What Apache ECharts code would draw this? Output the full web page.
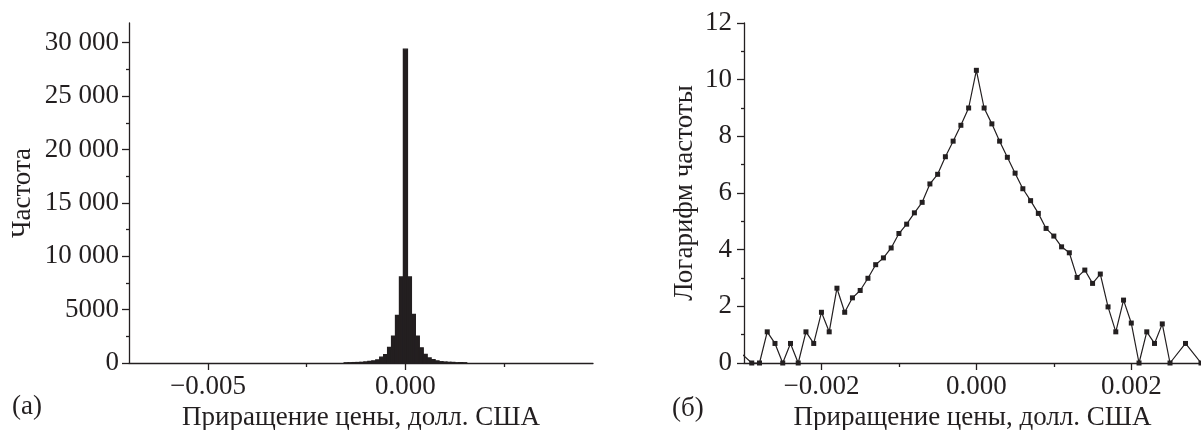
<!DOCTYPE html>
<html><head><meta charset="utf-8">
<script src="https://cdn.jsdelivr.net/npm/echarts@6/dist/echarts.min.js"></script>
<style>html,body{margin:0;padding:0;background:#fff}#c{width:1201px;height:430px}</style>
</head><body><div id="c"></div>
<script>
// ---- Panel (а): histogram of price increments ----
const HIST_X = [-0.0015,-0.0014,-0.0013,-0.0012,-0.0011,-0.0010,-0.0009,-0.0008,-0.0007,-0.0006,-0.0005,-0.0004,-0.0003,-0.0002,-0.0001,0,
  0.0001,0.0002,0.0003,0.0004,0.0005,0.0006,0.0007,0.0008,0.0009,0.0010,0.0011,0.0012,0.0013,0.0014,0.0015];
const HIST_COUNT = [13,20,32,41,58,97,134,200,290,555,780,1450,2500,4450,8050,29400,
  8050,4550,2500,1420,810,470,310,196,116,88,60,49,20,26,17];
const BIN_WIDTH = 0.0001;
const LEFT_Y_TICKS = [0,5000,10000,15000,20000,25000,30000];
const LEFT_Y_LABELS = ['0','5000','10 000','15 000','20 000','25 000','30 000'];
const LEFT_Y_MINOR = [2500,7500,12500,17500,22500,27500];
const LEFT_X_TICKS = [-0.005,0];
const LEFT_X_LABELS = ['\u22120.005','0.000'];
const LEFT_X_MINOR = [-0.0025,0.0025];

// ---- Panel (б): log of frequency ----
const LOG_X = [-0.0031,-0.0029,-0.0028,-0.0027,-0.0026,-0.0025,-0.0024,-0.0023,-0.0022,-0.0021,-0.0020,-0.0019,-0.0018,-0.0017,-0.0016,
  -0.0015,-0.0014,-0.0013,-0.0012,-0.0011,-0.0010,-0.0009,-0.0008,-0.0007,-0.0006,-0.0005,-0.0004,-0.0003,-0.0002,-0.0001,0,
  0.0001,0.0002,0.0003,0.0004,0.0005,0.0006,0.0007,0.0008,0.0009,0.0010,0.0011,0.0012,0.0013,0.0014,0.0015,
  0.0016,0.0017,0.0018,0.0019,0.0020,0.0021,0.0022,0.0023,0.0024,0.0025,0.0027,0.0029];
const LOG_Y = [0.5,0,0,1.1,0.69,0,0.69,0,1.1,0.69,1.79,1.1,2.64,1.79,2.30,
  2.56,2.99,3.47,3.71,4.06,4.57,4.90,5.30,5.67,6.32,6.66,7.28,7.83,8.39,9.0,10.33,
  9.0,8.44,7.83,7.26,6.70,6.15,5.73,5.28,4.75,4.48,4.10,3.89,3.02,3.28,2.81,
  3.14,1.98,1.10,2.22,1.41,0,1.10,0.69,1.38,0,0.69,0];
const RIGHT_Y_LABELS = ['0','2','4','6','8','10','12'];
const RIGHT_X_TICKS = [-0.002,0,0.002];
const RIGHT_X_LABELS = ['\u22120.002','0.000','0.002'];
const RIGHT_X_MINOR = [-0.001,0.001];

const INK = '#231f20';
const FONT = 'Liberation Serif';
const FS = 27;
const lineStyle = {color: INK, width: 1.3};
const labelStyle = {color: INK, fontFamily: FONT, fontSize: FS};

function mapLabel(ticks, labels) {
  return v => { for (let i = 0; i < ticks.length; i++) if (Math.abs(ticks[i] - v) < 1e-9) return labels[i]; return ''; };
}

const LEFT_X_MIN = -0.007, LEFT_X_MAX = 0.00475, LEFT_Y_MAX = 31850;
const RIGHT_X_MIN = -0.003, RIGHT_X_MAX = 0.0029;

const gridL = {left: 129, right: 608, top: 23, bottom: 67, containLabel: false, outerBoundsMode: 'none'};
const gridR = {left: 744, right: 0, top: 23, bottom: 67, containLabel: false, outerBoundsMode: 'none'};

const chart = echarts.init(document.getElementById('c'), null, {renderer: 'canvas'});
chart.setOption({
  animation: false,
  backgroundColor: '#fff',
  textStyle: {fontFamily: FONT, color: INK},
  grid: [Object.assign({}, gridL), Object.assign({}, gridL), Object.assign({}, gridR), Object.assign({}, gridR)],
  xAxis: [
    {type: 'value', gridIndex: 0, min: LEFT_X_MIN, max: LEFT_X_MAX,
      axisLine: {show: true, onZero: false, lineStyle}, splitLine: {show: false},
      axisTick: {show: true, inside: false, length: 7, customValues: LEFT_X_TICKS, lineStyle},
      axisLabel: Object.assign({margin: 10, customValues: LEFT_X_TICKS, formatter: mapLabel(LEFT_X_TICKS, LEFT_X_LABELS)}, labelStyle),
      name: 'Приращение цены, долл. США', nameLocation: 'middle', nameGap: 28, nameTextStyle: labelStyle},
    {type: 'value', gridIndex: 1, min: LEFT_X_MIN, max: LEFT_X_MAX,
      axisLine: {show: false, onZero: false}, splitLine: {show: false},
      axisTick: {show: true, length: 4, customValues: LEFT_X_MINOR, lineStyle},
      axisLabel: {show: false}},
    {type: 'value', gridIndex: 2, min: RIGHT_X_MIN, max: RIGHT_X_MAX,
      axisLine: {show: true, onZero: false, lineStyle}, splitLine: {show: false},
      axisTick: {show: true, length: 7, customValues: RIGHT_X_TICKS, lineStyle},
      axisLabel: Object.assign({margin: 10, customValues: RIGHT_X_TICKS, formatter: mapLabel(RIGHT_X_TICKS, RIGHT_X_LABELS)}, labelStyle),
      name: 'Приращение цены, долл. США', nameLocation: 'middle', nameGap: 28, nameTextStyle: labelStyle},
    {type: 'value', gridIndex: 3, min: RIGHT_X_MIN, max: RIGHT_X_MAX,
      axisLine: {show: false, onZero: false}, splitLine: {show: false},
      axisTick: {show: true, length: 4, customValues: RIGHT_X_MINOR, lineStyle},
      axisLabel: {show: false}}
  ],
  yAxis: [
    {type: 'value', gridIndex: 0, min: 0, max: LEFT_Y_MAX,
      axisLine: {show: true, onZero: false, lineStyle}, splitLine: {show: false},
      axisTick: {show: true, length: 7, customValues: LEFT_Y_TICKS, lineStyle},
      axisLabel: Object.assign({margin: 10, customValues: LEFT_Y_TICKS, formatter: mapLabel(LEFT_Y_TICKS, LEFT_Y_LABELS)}, labelStyle),
      name: 'Частота', nameLocation: 'middle', nameGap: 93, nameRotate: 90, nameTextStyle: labelStyle},
    {type: 'value', gridIndex: 1, min: 0, max: LEFT_Y_MAX,
      axisLine: {show: false, onZero: false}, splitLine: {show: false},
      axisTick: {show: true, length: 3, customValues: LEFT_Y_MINOR, lineStyle},
      axisLabel: {show: false}},
    {type: 'value', gridIndex: 2, min: 0, max: 12, interval: 2,
      axisLine: {show: true, onZero: false, lineStyle}, splitLine: {show: false},
      axisTick: {show: true, length: 7, lineStyle},
      minorTick: {show: true, splitNumber: 2, length: 3, lineStyle},
      axisLabel: Object.assign({margin: 12, formatter: v => RIGHT_Y_LABELS[Math.round(v / 2)] || ''}, labelStyle),
      name: 'Логарифм частоты', nameLocation: 'middle', nameGap: 46, nameRotate: 90, nameTextStyle: labelStyle},
    {type: 'value', gridIndex: 3, min: 0, max: 12, show: false}
  ],
  series: [
    {type: 'custom', xAxisIndex: 0, yAxisIndex: 0,
      data: HIST_X.map((x, i) => [x, HIST_COUNT[i]]),
      encode: {x: 0, y: 1},
      renderItem: function (params, api) {
        const x = api.value(0), v = api.value(1);
        const p0 = api.coord([x - BIN_WIDTH / 2, v]);
        const p1 = api.coord([x + BIN_WIDTH / 2, 0]);
        return {type: 'rect', shape: {x: p0[0], y: p0[1], width: p1[0] - p0[0], height: p1[1] - p0[1]},
          style: {fill: INK, stroke: INK, lineWidth: 1.4}};
      }},
    {type: 'line', xAxisIndex: 2, yAxisIndex: 2,
      data: LOG_X.map((x, i) => [x, LOG_Y[i]]),
      clip: true, symbol: 'rect', symbolSize: 5, showAllSymbol: true,
      lineStyle: {color: INK, width: 1.2}, itemStyle: {color: INK}}
  ],
  graphic: [
    {type: 'text', left: 12, top: 393, style: {text: '(а)', fill: INK, font: FS + 'px "' + FONT + '"'}},
    {type: 'text', left: 672, top: 395, style: {text: '(б)', fill: INK, font: FS + 'px "' + FONT + '"'}}
  ]
});
</script>
</body></html>
